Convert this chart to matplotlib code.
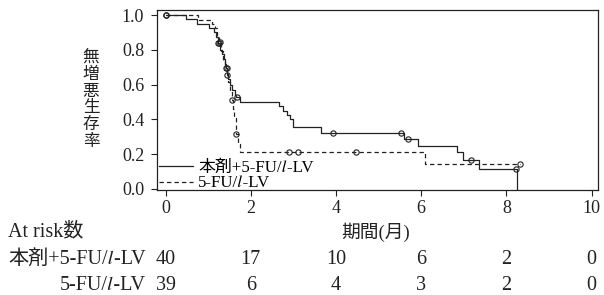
import matplotlib
matplotlib.use("Agg")
import matplotlib.pyplot as plt
from matplotlib.font_manager import FontProperties
from matplotlib.transforms import blended_transform_factory

# fonts: serif latin, CJK fallback, STIX for the italic "l"
FAMILY = ['Liberation Serif', 'Noto Sans CJK JP', 'STIXGeneral']
plt.rcParams['font.family'] = FAMILY

IL = '\U0001D459'   # mathematical italic small l
ARM_A = f'本剤+5-FU/{IL}-LV'
ARM_B = f'5-FU/{IL}-LV'

# ── DATA ────────────────────────────────────────────────────
combo_t = [0, 0.47, 0.74, 1.02, 1.14, 1.18, 1.22, 1.28, 1.32, 1.36, 1.39, 1.41, 1.43,
           1.47, 1.52, 1.57, 1.62, 1.66, 1.74, 2.67, 2.76, 2.85, 2.93, 3.0, 3.64,
           5.59, 5.92, 6.85, 6.99, 7.36, 8.26]
combo_s = [1.0, 0.975, 0.95, 0.925, 0.90, 0.875, 0.838, 0.80, 0.775, 0.75, 0.72, 0.695, 0.657,
           0.63, 0.60, 0.57, 0.54, 0.528, 0.50, 0.475, 0.45, 0.425, 0.40, 0.356, 0.324,
           0.29, 0.247, 0.21, 0.166, 0.113, 0.0]
combo_cens_t = [0, 1.23, 1.26, 1.41, 1.43, 1.43, 1.68, 3.93, 5.52, 5.68, 7.17, 8.22]
combo_cens_s = [1.0, 0.838, 0.838, 0.695, 0.695, 0.657, 0.528, 0.324, 0.324, 0.29, 0.166, 0.113]

ctrl_t = [0, 0.77, 1.08, 1.17, 1.21, 1.26, 1.31, 1.35, 1.39, 1.43, 1.47, 1.51, 1.55,
          1.58, 1.61, 1.65, 1.69, 1.75, 6.09, 8.32]
ctrl_s = [1.0, 0.974, 0.949, 0.923, 0.872, 0.846, 0.795, 0.744, 0.693, 0.667, 0.615, 0.564, 0.513,
          0.462, 0.41, 0.314, 0.26, 0.21, 0.143, 0.143]
ctrl_cens_t = [0, 1.27, 1.55, 1.65, 2.9, 3.1, 4.47, 8.32]
ctrl_cens_s = [1.0, 0.846, 0.513, 0.314, 0.21, 0.21, 0.21, 0.143]

risk_times = [0, 2, 4, 6, 8, 10]
risk_combo = [40, 17, 10, 6, 2, 0]
risk_ctrl = [39, 6, 4, 3, 2, 0]

# ── CHART ───────────────────────────────────────────────────
fig = plt.figure(figsize=(6.04, 2.95), dpi=100)
ax = fig.add_axes([0.2594, 0.3576, 0.7306, 0.6085])

INK = '#222222'
ax.step(combo_t, combo_s, where='post', color=INK, lw=0.9, label=ARM_A)
ax.step(ctrl_t, ctrl_s, where='post', color=INK, lw=0.9, ls=(0, (3.5, 2.5)), label=ARM_B)
ax.plot(combo_cens_t, combo_cens_s, 'o', ms=3.8, mfc='none', mec=INK, mew=0.8)
ax.plot(ctrl_cens_t, ctrl_cens_s, 'o', ms=3.8, mfc='none', mec=INK, mew=0.8)

ax.set_xlim(-0.21, 10.15)
ax.set_ylim(-0.003, 1.029)
ax.set_xticks(risk_times)
ax.set_yticks([0, 0.2, 0.4, 0.6, 0.8, 1.0])
ax.set_yticklabels(['0.0', '0.2', '0.4', '0.6', '0.8', '1.0'])
ax.tick_params(direction='out', length=4.5, width=0.8, colors=INK, labelsize=13, pad=3)
ax.tick_params(axis='y', pad=4.5)
for sp in ax.spines.values():
    sp.set_linewidth(0.9)
    sp.set_color(INK)

leg = ax.legend(loc='lower left', bbox_to_anchor=(0, -0.025), frameon=False,
                handlelength=2.0, handletextpad=0.3,
                borderaxespad=0.05, borderpad=0.1, labelspacing=0.0,
                prop=FontProperties(family=FAMILY, size=12.2))

# vertical y label, one character per line
fig.text(91 / 604, 1 - 100 / 295, '\n'.join('無増悪生存率'), ha='center', va='center',
         fontsize=12, linespacing=1.07, color=INK)

# x label and at-risk table
fig.text(376 / 604, 1 - 232 / 295, '期間(月)', ha='center', va='center', fontsize=13.5, color=INK)
fig.text(8 / 604, 1 - 232 / 295, 'At risk数', ha='left', va='center', fontsize=14.5, color=INK)
fig.text(146 / 604, 1 - 259 / 295, ARM_A, ha='right', va='center', fontsize=14.5, color=INK)
fig.text(146 / 604, 1 - 285 / 295, ARM_B, ha='right', va='center', fontsize=14.5, color=INK)

tr = blended_transform_factory(ax.transData, fig.transFigure)
for t, a, b in zip(risk_times, risk_combo, risk_ctrl):
    fig.text(t, 1 - 259 / 295, str(a), transform=tr, ha='center', va='center', fontsize=14.5, color=INK)
    fig.text(t, 1 - 285 / 295, str(b), transform=tr, ha='center', va='center', fontsize=14.5, color=INK)

fig.savefig('out.png', dpi=100)
